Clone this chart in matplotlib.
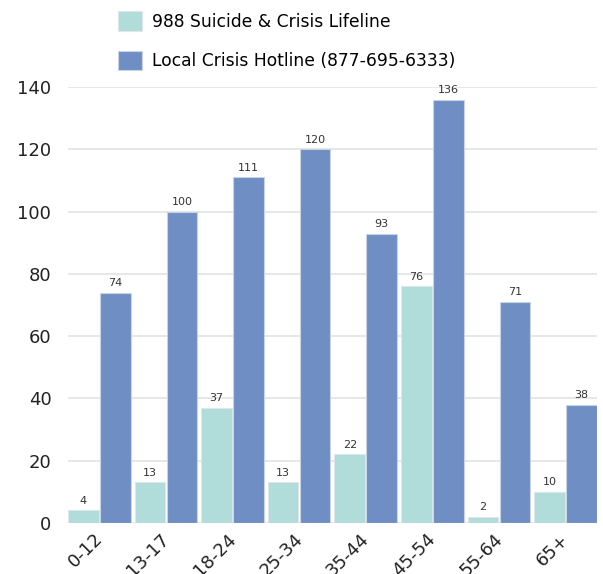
import numpy as np
import matplotlib.pyplot as plt
from matplotlib.transforms import ScaledTranslation

ages = ['0-12', '13-17', '18-24', '25-34', '35-44', '45-54', '55-64', '65+']
lifeline_988 = [4, 13, 37, 13, 22, 76, 2, 10]
local_hotline = [74, 100, 111, 120, 93, 136, 71, 38]

teal = '#b0dcda'
blue = '#6f8fc4'

fig = plt.figure(figsize=(6.03, 5.74), dpi=100)
ax = fig.add_axes([0.1128, 0.089, 0.877, 0.759])

x = np.arange(len(ages))
w = 0.46
b1 = ax.bar(x - 0.24, lifeline_988, w, color=teal, edgecolor='#dde6ea', linewidth=0.8,
            label='988 Suicide & Crisis Lifeline', zorder=3)
b2 = ax.bar(x + 0.24, local_hotline, w, color=blue, edgecolor='#c9d3e3', linewidth=0.8,
            label='Local Crisis Hotline (877-695-6333)', zorder=3)

for bars in (b1, b2):
    for r in bars:
        ax.text(r.get_x() + r.get_width() / 2, r.get_height() + 1.5, f'{int(r.get_height())}',
                ha='center', va='bottom', fontsize=8, color='#333333')

ax.set_xlim(-0.47, 7.47)
ax.set_ylim(0, 140)
ax.set_yticks(range(0, 141, 20))
ax.set_xticks(x)
ax.set_xticklabels(ages, rotation=45, ha='right', rotation_mode='anchor')
ax.tick_params(axis='both', length=0, labelsize=13, colors='#222222')
ax.tick_params(axis='y', pad=12)
ax.tick_params(axis='x', pad=5, labelsize=13)
shift = ScaledTranslation(-4 / 72, 0, fig.dpi_scale_trans)
for lbl in ax.get_xticklabels():
    lbl.set_transform(lbl.get_transform() + shift)
ax.grid(axis='y', color='#e3e3e3', linewidth=1.2, zorder=0)
for s in ax.spines.values():
    s.set_visible(False)

fig.legend(handles=[b1, b2], loc='upper left', bbox_to_anchor=(0.17, 1.007), frameon=False,
           fontsize=12.3, handlelength=1.4, handleheight=1.4, labelspacing=1.15, handletextpad=0.6)

fig.savefig('out.png', dpi=100)
